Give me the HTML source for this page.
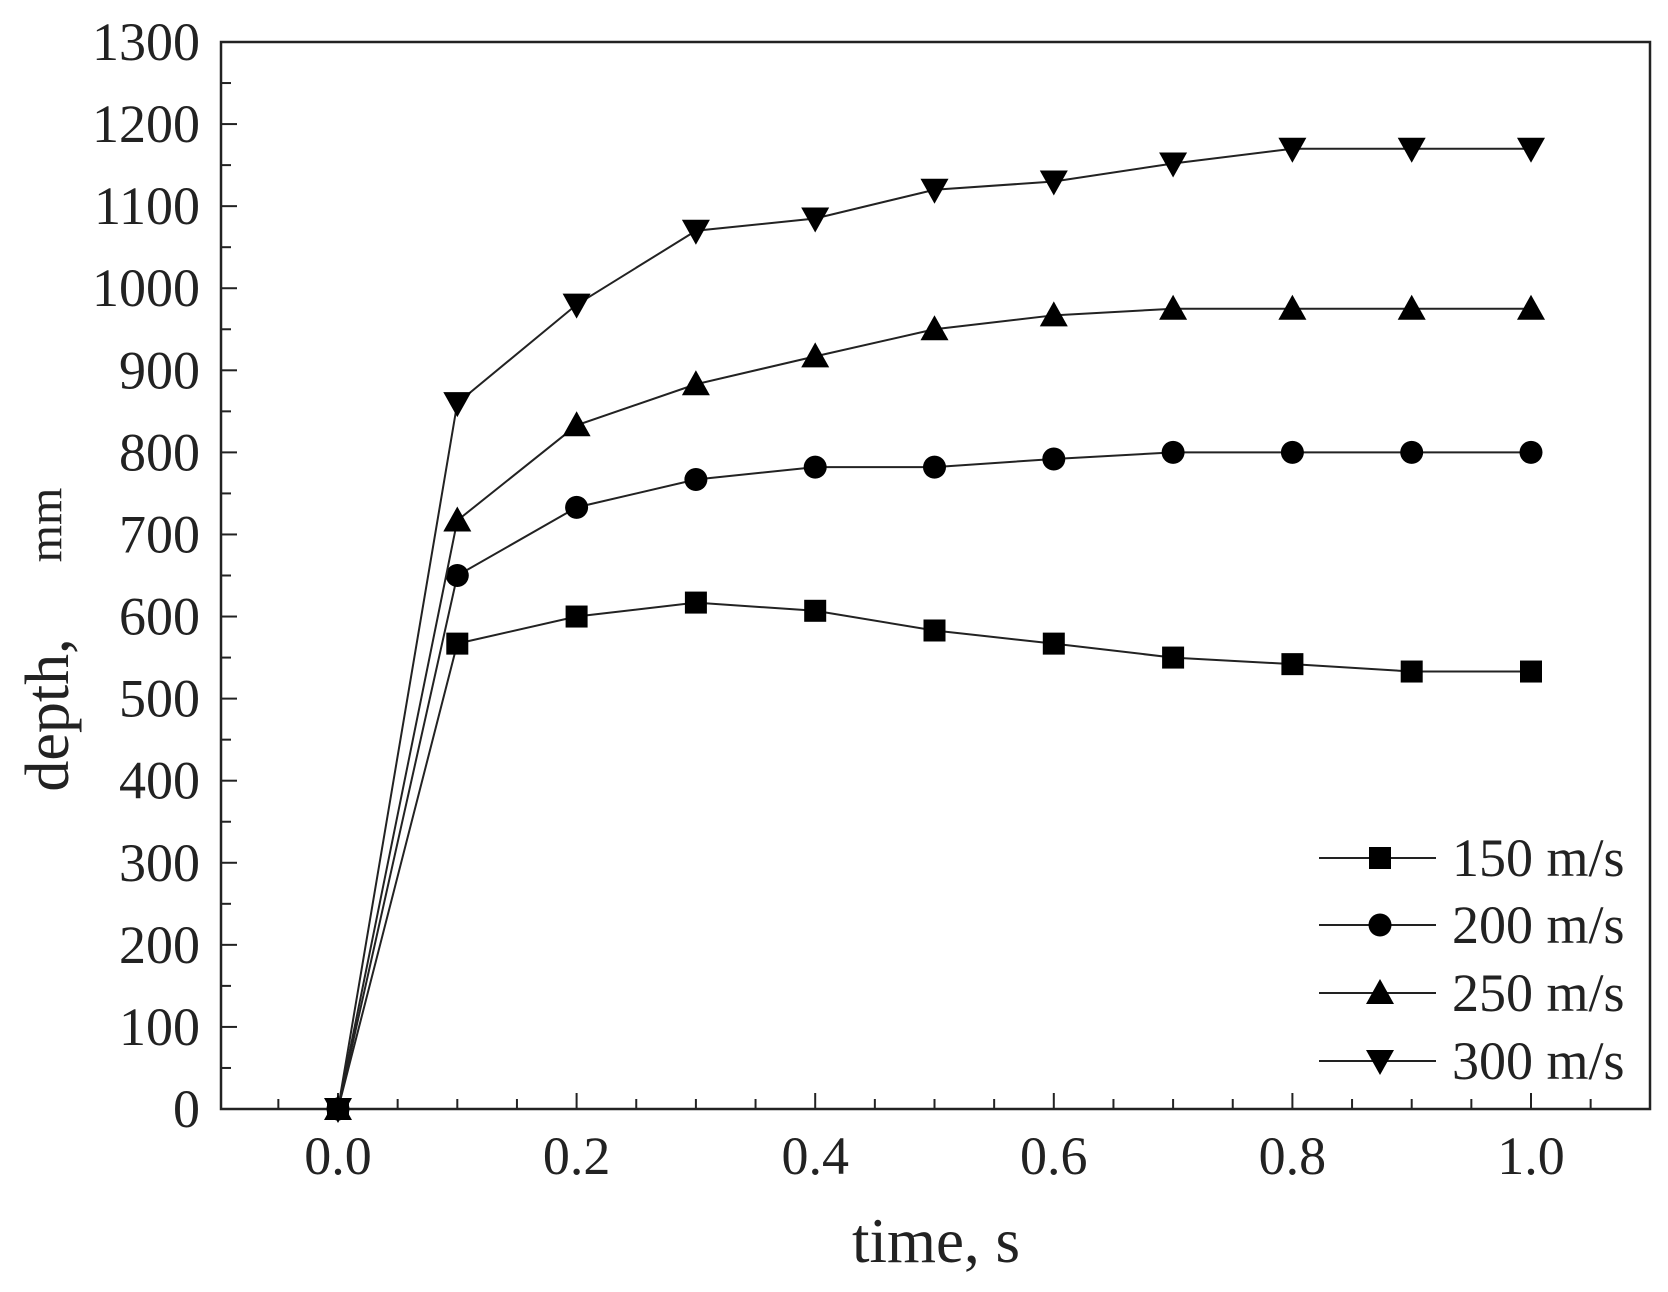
<!DOCTYPE html>
<html><head><style>html,body{margin:0;padding:0;background:#fff}svg{display:block}</style></head>
<body>
<svg width="1668" height="1292" viewBox="0 0 1668 1292" xmlns="http://www.w3.org/2000/svg" font-family="Liberation Serif, serif">
<g id="c"></g>
<script>
const NS="http://www.w3.org/2000/svg";const g=document.getElementById('c');
function el(t,a,txt){const e=document.createElementNS(NS,t);for(const k in a)e.setAttribute(k,a[k]);if(txt!==undefined)e.textContent=txt;g.appendChild(e);return e;}
const L=221,R=1650,T=42,B=1109;
const X=v=>338+v*1193, Y=v=>B-v*(B-T)/1300;
el('rect',{x:L,y:T,width:R-L,height:B-T,fill:'none',stroke:'#222','stroke-width':2.5});
for(let v=0;v<=1300;v+=50){const y=Y(v);const maj=v%100==0;el('line',{x1:L,x2:L+(maj?16:10),y1:y,y2:y,stroke:'#222','stroke-width':2});
 if(maj)el('text',{x:200,y:y+18,'text-anchor':'end','font-size':54,fill:'#222'},String(v));}
for(let i=-2;i<=22;i++){const v=i*0.05;const x=X(v);if(x<=L+2||x>=R-2)continue;const maj=((i%4)+4)%4==0;el('line',{x1:x,x2:x,y1:B,y2:B-(maj?16:10),stroke:'#222','stroke-width':2});
 if(maj)el('text',{x:x,y:1174,'text-anchor':'middle','font-size':54,fill:'#222'},(i/20).toFixed(1));}
el('text',{x:936,y:1262,'text-anchor':'middle','font-size':63,fill:'#222'},'time, s');
el('text',{transform:'translate(68,715) rotate(-90)','text-anchor':'middle','font-size':62,fill:'#222'},'depth,');
el('text',{transform:'translate(61,525) rotate(-90)','text-anchor':'middle','font-size':48,fill:'#222'},'mm');
const D=[[0,567,600,617,607,583,567,550,542,533,533],[0,650,733,767,782,782,792,800,800,800,800],[0,717,833,883,917,950,967,975,975,975,975],[0,860,980,1070,1085,1120,1130,1152,1170,1170,1170]];
function mk(k,x,y){if(k==0)el('rect',{x:x-11,y:y-11,width:22,height:22,fill:'#000'});
 else if(k==1)el('circle',{cx:x,cy:y,r:11.5,fill:'#000'});
 else if(k==2)el('polygon',{points:`${x},${y-14} ${x-14},${y+11} ${x+14},${y+11}`,fill:'#000'});
 else el('polygon',{points:`${x},${y+14} ${x-14},${y-11} ${x+14},${y-11}`,fill:'#000'});}
D.forEach((d,k)=>{el('polyline',{points:d.map((v,i)=>X(i/10)+','+Y(v)).join(' '),fill:'none',stroke:'#222','stroke-width':2});d.forEach((v,i)=>mk(k,X(i/10),Y(v)));});
const labs=['150 m/s','200 m/s','250 m/s','300 m/s'];const ry=[858,925,993,1061];
labs.forEach((t,k)=>{el('line',{x1:1319,x2:1436,y1:ry[k],y2:ry[k],stroke:'#222','stroke-width':2});mk(k,1380,ry[k]);el('text',{x:1452,y:ry[k]+18,'font-size':54,fill:'#222'},t);});
</script>
</svg>
</body></html>
